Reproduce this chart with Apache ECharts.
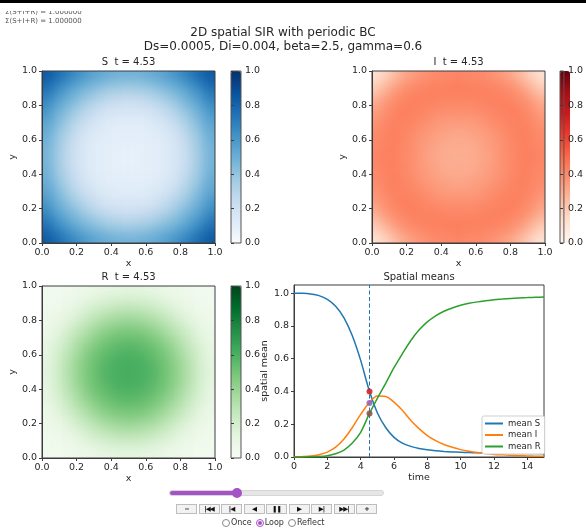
<!DOCTYPE html>
<html>
<head>
<meta charset="utf-8">
<script src="https://cdn.jsdelivr.net/npm/echarts@6/dist/echarts.min.js"></script>
<style>
  html, body { margin: 0; padding: 0; background: #fff; }
  body { width: 586px; height: 529px; position: relative; overflow: hidden; font-family: 'DejaVu Sans', sans-serif; }
  #heat { position: absolute; left: 0; top: 0; width: 586px; height: 529px; z-index: 1;
          filter: url(#smooth);
          clip-path: path('M42,71 h173 v172 h-173 Z M372,71 h173 v172 h-173 Z M42,286 h173 v172 h-173 Z'); }
  #chart { position: absolute; left: 0; top: 0; width: 586px; height: 529px; z-index: 2; }
  #topbar { position: absolute; left: 0; top: 0; width: 586px; height: 3px; background: #000; z-index: 5; }
  #note { position: absolute; left: 5px; top: 11px; height: 16px; overflow: hidden; z-index: 4; }
  #note div { margin-top: -3px; font-size: 7px; line-height: 9px; color: #555; }
  #slider { position: absolute; left: 169px; top: 490px; width: 213px; height: 4px; background: #e6e6e6; border: 1px solid #d6d6d6; border-radius: 3px; z-index: 3; }
  #fill { position: absolute; left: 0; top: 0; width: 67px; height: 4px; background: #a552c8; border-radius: 3px; }
  #knob { position: absolute; left: 62px; top: -3px; width: 10px; height: 10px; border-radius: 50%; background: #a552c8; }
  #buttons { position: absolute; left: 176px; top: 504px; display: flex; gap: 1.5px; z-index: 3; }
  #buttons span { display: block; width: 21px; height: 10px; box-sizing: border-box; border: 1px solid #bdbdbd; background: #f2f2f2; font-size: 6.5px; line-height: 8px; text-align: center; color: #111; font-weight: bold; letter-spacing: -1px; }
  #modes { position: absolute; left: 218px; top: 518px; font-size: 8px; color: #333; display: flex; align-items: center; z-index: 3; }
  .radio { display: inline-block; width: 6px; height: 6px; border: 1px solid #888; border-radius: 50%; margin: 0 1px 0 4px; position: relative; }
  .radio.on { border-color: #a552c8; }
  .radio.on::after { content: ''; position: absolute; left: 1px; top: 1px; width: 4px; height: 4px; border-radius: 50%; background: #a552c8; }
</style>
</head>
<body>
<svg width="0" height="0" style="position:absolute">
  <filter id="smooth" x="0" y="0" width="100%" height="100%" color-interpolation-filters="sRGB">
    <feGaussianBlur stdDeviation="4.5"/>
    <feComponentTransfer><feFuncA type="linear" slope="60" intercept="0"/></feComponentTransfer>
  </filter>
</svg>
<div id="topbar"></div>
<div id="note"><div>Σ(S+I+R) = 1.000000<br>Σ(S+I+R) = 1.000000</div></div>
<div id="heat"></div>
<div id="chart"></div>
<div id="slider"><div id="fill"></div><div id="knob"></div></div>
<div id="buttons"><span>−</span><span>|◀◀</span><span>|◀</span><span>◀</span><span>❚❚</span><span>▶</span><span>▶|</span><span>▶▶|</span><span>+</span></div>
<div id="modes"><span class="radio"></span>Once <span class="radio on"></span>Loop <span class="radio"></span>Reflect</div>
<script>
// grid cell centres of the 20x20 field
const CELLS = [0.025, 0.075, 0.125, 0.175, 0.225, 0.275, 0.325, 0.375, 0.425, 0.475,
               0.525, 0.575, 0.625, 0.675, 0.725, 0.775, 0.825, 0.875, 0.925, 0.975];
const UNIT_TICKS = [0, 0.2, 0.4, 0.6, 0.8, 1.0];
const TIME_TICKS = [0, 2, 4, 6, 8, 10, 12, 14];
const T_NOW = 4.53;
const Y_TOP = 1.05;

// S field at t = 4.53 (rows from y=0 upward)
const S_FIELD = [
  [0.84,0.79,0.73,0.67,0.62,0.57,0.53,0.51,0.49,0.48,0.48,0.49,0.51,0.53,0.57,0.62,0.67,0.73,0.79,0.84],
  [0.79,0.72,0.65,0.59,0.53,0.49,0.46,0.43,0.41,0.40,0.40,0.41,0.43,0.46,0.49,0.53,0.59,0.65,0.72,0.79],
  [0.73,0.65,0.58,0.51,0.46,0.42,0.38,0.34,0.32,0.31,0.31,0.32,0.34,0.38,0.42,0.46,0.51,0.58,0.65,0.73],
  [0.67,0.59,0.51,0.46,0.40,0.34,0.30,0.27,0.24,0.23,0.23,0.24,0.27,0.30,0.34,0.40,0.46,0.51,0.59,0.67],
  [0.62,0.53,0.46,0.40,0.33,0.28,0.23,0.19,0.18,0.17,0.17,0.18,0.19,0.23,0.28,0.33,0.40,0.46,0.53,0.62],
  [0.57,0.49,0.42,0.34,0.28,0.22,0.18,0.15,0.13,0.13,0.13,0.13,0.15,0.18,0.22,0.28,0.34,0.42,0.49,0.57],
  [0.53,0.46,0.38,0.30,0.23,0.18,0.14,0.12,0.11,0.11,0.11,0.11,0.12,0.14,0.18,0.23,0.30,0.38,0.46,0.53],
  [0.51,0.43,0.34,0.27,0.19,0.15,0.12,0.11,0.10,0.10,0.10,0.10,0.11,0.12,0.15,0.19,0.27,0.34,0.43,0.51],
  [0.49,0.41,0.32,0.24,0.18,0.13,0.11,0.10,0.09,0.09,0.09,0.09,0.10,0.11,0.13,0.18,0.24,0.32,0.41,0.49],
  [0.48,0.40,0.31,0.23,0.17,0.13,0.11,0.10,0.09,0.08,0.08,0.09,0.10,0.11,0.13,0.17,0.23,0.31,0.40,0.48],
  [0.48,0.40,0.31,0.23,0.17,0.13,0.11,0.10,0.09,0.08,0.08,0.09,0.10,0.11,0.13,0.17,0.23,0.31,0.40,0.48],
  [0.49,0.41,0.32,0.24,0.18,0.13,0.11,0.10,0.09,0.09,0.09,0.09,0.10,0.11,0.13,0.18,0.24,0.32,0.41,0.49],
  [0.51,0.43,0.34,0.27,0.19,0.15,0.12,0.11,0.10,0.10,0.10,0.10,0.11,0.12,0.15,0.19,0.27,0.34,0.43,0.51],
  [0.53,0.46,0.38,0.30,0.23,0.18,0.14,0.12,0.11,0.11,0.11,0.11,0.12,0.14,0.18,0.23,0.30,0.38,0.46,0.53],
  [0.57,0.49,0.42,0.34,0.28,0.22,0.18,0.15,0.13,0.13,0.13,0.13,0.15,0.18,0.22,0.28,0.34,0.42,0.49,0.57],
  [0.62,0.53,0.46,0.40,0.33,0.28,0.23,0.19,0.18,0.17,0.17,0.18,0.19,0.23,0.28,0.33,0.40,0.46,0.53,0.62],
  [0.67,0.59,0.51,0.46,0.40,0.34,0.30,0.27,0.24,0.23,0.23,0.24,0.27,0.30,0.34,0.40,0.46,0.51,0.59,0.67],
  [0.73,0.65,0.58,0.51,0.46,0.42,0.38,0.34,0.32,0.31,0.31,0.32,0.34,0.38,0.42,0.46,0.51,0.58,0.65,0.73],
  [0.79,0.72,0.65,0.59,0.53,0.49,0.46,0.43,0.41,0.40,0.40,0.41,0.43,0.46,0.49,0.53,0.59,0.65,0.72,0.79],
  [0.84,0.79,0.73,0.67,0.62,0.57,0.53,0.51,0.49,0.48,0.48,0.49,0.51,0.53,0.57,0.62,0.67,0.73,0.79,0.84]
];

const I_FIELD = [
  [0.12,0.17,0.23,0.29,0.33,0.36,0.38,0.40,0.40,0.41,0.41,0.40,0.40,0.38,0.36,0.33,0.29,0.23,0.17,0.12],
  [0.17,0.24,0.30,0.35,0.38,0.40,0.41,0.42,0.42,0.43,0.43,0.42,0.42,0.41,0.40,0.38,0.35,0.30,0.24,0.17],
  [0.23,0.30,0.35,0.39,0.41,0.42,0.43,0.43,0.43,0.43,0.43,0.43,0.43,0.43,0.42,0.41,0.39,0.35,0.30,0.23],
  [0.29,0.35,0.39,0.41,0.43,0.43,0.42,0.42,0.41,0.41,0.41,0.41,0.42,0.42,0.43,0.43,0.41,0.39,0.35,0.29],
  [0.33,0.38,0.41,0.43,0.43,0.42,0.41,0.40,0.39,0.39,0.39,0.39,0.40,0.41,0.42,0.43,0.43,0.41,0.38,0.33],
  [0.36,0.40,0.42,0.43,0.42,0.41,0.39,0.37,0.36,0.36,0.36,0.36,0.37,0.39,0.41,0.42,0.43,0.42,0.40,0.36],
  [0.38,0.41,0.43,0.42,0.41,0.39,0.37,0.35,0.34,0.33,0.33,0.34,0.35,0.37,0.39,0.41,0.42,0.43,0.41,0.38],
  [0.40,0.42,0.43,0.42,0.40,0.37,0.35,0.33,0.32,0.31,0.31,0.32,0.33,0.35,0.37,0.40,0.42,0.43,0.42,0.40],
  [0.40,0.42,0.43,0.41,0.39,0.36,0.34,0.32,0.30,0.30,0.30,0.30,0.32,0.34,0.36,0.39,0.41,0.43,0.42,0.40],
  [0.41,0.43,0.43,0.41,0.39,0.36,0.33,0.31,0.30,0.29,0.29,0.30,0.31,0.33,0.36,0.39,0.41,0.43,0.43,0.41],
  [0.41,0.43,0.43,0.41,0.39,0.36,0.33,0.31,0.30,0.29,0.29,0.30,0.31,0.33,0.36,0.39,0.41,0.43,0.43,0.41],
  [0.40,0.42,0.43,0.41,0.39,0.36,0.34,0.32,0.30,0.30,0.30,0.30,0.32,0.34,0.36,0.39,0.41,0.43,0.42,0.40],
  [0.40,0.42,0.43,0.42,0.40,0.37,0.35,0.33,0.32,0.31,0.31,0.32,0.33,0.35,0.37,0.40,0.42,0.43,0.42,0.40],
  [0.38,0.41,0.43,0.42,0.41,0.39,0.37,0.35,0.34,0.33,0.33,0.34,0.35,0.37,0.39,0.41,0.42,0.43,0.41,0.38],
  [0.36,0.40,0.42,0.43,0.42,0.41,0.39,0.37,0.36,0.36,0.36,0.36,0.37,0.39,0.41,0.42,0.43,0.42,0.40,0.36],
  [0.33,0.38,0.41,0.43,0.43,0.42,0.41,0.40,0.39,0.39,0.39,0.39,0.40,0.41,0.42,0.43,0.43,0.41,0.38,0.33],
  [0.29,0.35,0.39,0.41,0.43,0.43,0.42,0.42,0.41,0.41,0.41,0.41,0.42,0.42,0.43,0.43,0.41,0.39,0.35,0.29],
  [0.23,0.30,0.35,0.39,0.41,0.42,0.43,0.43,0.43,0.43,0.43,0.43,0.43,0.43,0.42,0.41,0.39,0.35,0.30,0.23],
  [0.17,0.24,0.30,0.35,0.38,0.40,0.41,0.42,0.42,0.43,0.43,0.42,0.42,0.41,0.40,0.38,0.35,0.30,0.24,0.17],
  [0.12,0.17,0.23,0.29,0.33,0.36,0.38,0.40,0.40,0.41,0.41,0.40,0.40,0.38,0.36,0.33,0.29,0.23,0.17,0.12]
];

const R_FIELD = [
  [0.04,0.04,0.05,0.06,0.07,0.08,0.10,0.11,0.12,0.13,0.13,0.12,0.11,0.10,0.08,0.07,0.06,0.05,0.04,0.04],
  [0.04,0.05,0.06,0.08,0.10,0.12,0.15,0.17,0.18,0.19,0.19,0.18,0.17,0.15,0.12,0.10,0.08,0.06,0.05,0.04],
  [0.05,0.06,0.08,0.10,0.14,0.18,0.21,0.24,0.26,0.27,0.27,0.26,0.24,0.21,0.18,0.14,0.10,0.08,0.06,0.05],
  [0.06,0.08,0.10,0.15,0.19,0.24,0.28,0.31,0.34,0.35,0.35,0.34,0.31,0.28,0.24,0.19,0.15,0.10,0.08,0.06],
  [0.07,0.10,0.14,0.19,0.25,0.30,0.35,0.39,0.41,0.43,0.43,0.41,0.39,0.35,0.30,0.25,0.19,0.14,0.10,0.07],
  [0.08,0.12,0.18,0.24,0.30,0.36,0.41,0.45,0.48,0.49,0.49,0.48,0.45,0.41,0.36,0.30,0.24,0.18,0.12,0.08],
  [0.10,0.15,0.21,0.28,0.35,0.41,0.46,0.50,0.53,0.54,0.54,0.53,0.50,0.46,0.41,0.35,0.28,0.21,0.15,0.10],
  [0.11,0.17,0.24,0.31,0.39,0.45,0.50,0.54,0.56,0.58,0.58,0.56,0.54,0.50,0.45,0.39,0.31,0.24,0.17,0.11],
  [0.12,0.18,0.26,0.34,0.41,0.48,0.53,0.56,0.60,0.60,0.60,0.60,0.56,0.53,0.48,0.41,0.34,0.26,0.18,0.12],
  [0.13,0.19,0.27,0.35,0.43,0.49,0.54,0.58,0.60,0.61,0.61,0.60,0.58,0.54,0.49,0.43,0.35,0.27,0.19,0.13],
  [0.13,0.19,0.27,0.35,0.43,0.49,0.54,0.58,0.60,0.61,0.61,0.60,0.58,0.54,0.49,0.43,0.35,0.27,0.19,0.13],
  [0.12,0.18,0.26,0.34,0.41,0.48,0.53,0.56,0.60,0.60,0.60,0.60,0.56,0.53,0.48,0.41,0.34,0.26,0.18,0.12],
  [0.11,0.17,0.24,0.31,0.39,0.45,0.50,0.54,0.56,0.58,0.58,0.56,0.54,0.50,0.45,0.39,0.31,0.24,0.17,0.11],
  [0.10,0.15,0.21,0.28,0.35,0.41,0.46,0.50,0.53,0.54,0.54,0.53,0.50,0.46,0.41,0.35,0.28,0.21,0.15,0.10],
  [0.08,0.12,0.18,0.24,0.30,0.36,0.41,0.45,0.48,0.49,0.49,0.48,0.45,0.41,0.36,0.30,0.24,0.18,0.12,0.08],
  [0.07,0.10,0.14,0.19,0.25,0.30,0.35,0.39,0.41,0.43,0.43,0.41,0.39,0.35,0.30,0.25,0.19,0.14,0.10,0.07],
  [0.06,0.08,0.10,0.15,0.19,0.24,0.28,0.31,0.34,0.35,0.35,0.34,0.31,0.28,0.24,0.19,0.15,0.10,0.08,0.06],
  [0.05,0.06,0.08,0.10,0.14,0.18,0.21,0.24,0.26,0.27,0.27,0.26,0.24,0.21,0.18,0.14,0.10,0.08,0.06,0.05],
  [0.04,0.05,0.06,0.08,0.10,0.12,0.15,0.17,0.18,0.19,0.19,0.18,0.17,0.15,0.12,0.10,0.08,0.06,0.05,0.04],
  [0.04,0.04,0.05,0.06,0.07,0.08,0.10,0.11,0.12,0.13,0.13,0.12,0.11,0.10,0.08,0.07,0.06,0.05,0.04,0.04]
];

// spatial means over time
const TIMES  = [0, 0.5, 1, 1.5, 2, 2.5, 3, 3.5, 4, 4.5, 5, 5.5, 6, 6.5, 7, 7.5, 8, 8.5, 9, 9.5, 10, 10.5, 11, 11.5, 12, 12.5, 13, 13.5, 14, 14.5, 15];
const MEAN_S = [1.000, 0.999, 0.995, 0.985, 0.962, 0.920, 0.850, 0.740, 0.590, 0.410, 0.270, 0.180, 0.120, 0.085, 0.065, 0.052, 0.044, 0.038, 0.034, 0.031, 0.029, 0.027, 0.026, 0.025, 0.024, 0.023, 0.022, 0.022, 0.021, 0.021, 0.020];
const MEAN_I = [0.001, 0.003, 0.006, 0.014, 0.030, 0.060, 0.110, 0.180, 0.260, 0.330, 0.372, 0.370, 0.335, 0.285, 0.225, 0.173, 0.131, 0.100, 0.076, 0.059, 0.045, 0.035, 0.027, 0.021, 0.016, 0.013, 0.010, 0.008, 0.006, 0.005, 0.004];
const MEAN_R = [0.000, 0.000, 0.001, 0.003, 0.008, 0.020, 0.042, 0.085, 0.150, 0.260, 0.358, 0.450, 0.545, 0.630, 0.710, 0.775, 0.825, 0.862, 0.890, 0.910, 0.926, 0.938, 0.947, 0.954, 0.960, 0.964, 0.968, 0.971, 0.973, 0.975, 0.977];
const NOW_VALUES = [0.40, 0.33, 0.265];

const BLUES  = ['#f7fbff', '#deebf7', '#c6dbef', '#9ecae1', '#6baed6', '#4292c6', '#2171b5', '#08519c', '#08306b'];
const REDS   = ['#fff5f0', '#fee0d2', '#fcbba1', '#fc9272', '#fb6a4a', '#ef3b2c', '#cb181d', '#a50f15', '#67000d'];
const GREENS = ['#f7fcf5', '#e5f5e0', '#c7e9c0', '#a1d99b', '#74c476', '#41ab5d', '#238b45', '#006d2c', '#00441b'];

const FONT = 'DejaVu Sans';
const TXT = '#262626';
const AX = '#3c3c3c';

const panels = [
  { name: 'S', field: S_FIELD, colors: BLUES,  left: 42,  top: 71,  cb: 231 },
  { name: 'I', field: I_FIELD, colors: REDS,   left: 372, top: 71,  cb: 560 },
  { name: 'R', field: R_FIELD, colors: GREENS, left: 42,  top: 286, cb: 231 }
];
const PW = 173, PH = 172;

// ---- heat layer (cells only, smoothed by the css filter) ----
const heatGrids = [], heatX = [], heatY = [], heatSeries = [], heatMaps = [];
panels.forEach((p, k) => {
  heatGrids.push({ left: p.left, top: p.top, width: PW, height: PH, show: false });
  heatX.push({ gridIndex: k, type: 'category', data: CELLS, show: false });
  heatY.push({ gridIndex: k, type: 'category', data: CELLS, show: false });
  const data = [];
  p.field.forEach((row, j) => row.forEach((v, i) => data.push([i, j, v])));
  heatSeries.push({ type: 'heatmap', name: p.name, xAxisIndex: k, yAxisIndex: k, data: data, silent: true,
    itemStyle: { borderWidth: 0 }, emphasis: { disabled: true } });
  heatMaps.push({ type: 'continuous', show: false, seriesIndex: k, min: 0, max: 1, inRange: { color: p.colors } });
});
const heat = echarts.init(document.getElementById('heat'));
heat.setOption({ animation: false, grid: heatGrids, xAxis: heatX, yAxis: heatY, visualMap: heatMaps, series: heatSeries });

// ---- axes, colorbars, means ----
const grids = [], xAxes = [], yAxes = [], series = [], visualMaps = [], texts = [];

const tickLabel = { fontSize: 9.5, color: TXT, fontFamily: FONT, margin: 5, formatter: v => v.toFixed(1) };
const axLine = { show: true, lineStyle: { color: AX, width: 1 } };
const axTick = { show: true, inside: false, length: 3, lineStyle: { color: AX, width: 1 } };
const nameStyle = { fontSize: 9.5, color: TXT, fontFamily: FONT };

panels.forEach((p, k) => {
  const g = k * 2;
  grids.push({ left: p.left, top: p.top, width: PW, height: PH, show: true, borderColor: AX, borderWidth: 1, backgroundColor: 'transparent' });
  xAxes.push({ gridIndex: g, type: 'value', min: 0, max: 1, interval: 0.2,
    axisLine: axLine, axisTick: axTick, axisLabel: tickLabel, splitLine: { show: false },
    name: 'x', nameLocation: 'middle', nameGap: 10, nameTextStyle: nameStyle });
  yAxes.push({ gridIndex: g, type: 'value', min: 0, max: 1, interval: 0.2,
    axisLine: axLine, axisTick: axTick, axisLabel: tickLabel, splitLine: { show: false },
    name: 'y', nameLocation: 'middle', nameGap: 15, nameRotate: 90, nameTextStyle: nameStyle });
  // colorbar axis
  grids.push({ left: p.cb, top: p.top, width: 10, height: PH, show: true, borderColor: '#555', borderWidth: 1, backgroundColor: 'transparent', z: 10 });
  xAxes.push({ gridIndex: g + 1, type: 'value', show: false, min: 0, max: 1 });
  yAxes.push({ gridIndex: g + 1, type: 'value', position: 'right', min: 0, max: 1, interval: 0.2, z: 10,
    axisLine: { show: false }, axisTick: axTick, axisLabel: Object.assign({}, tickLabel, { margin: 4 }), splitLine: { show: false } });

  visualMaps.push({ type: 'continuous', seriesIndex: [], min: 0, max: 1, left: p.cb, top: p.top,
    itemWidth: 10, itemHeight: PH, padding: 0, calculable: false, hoverLink: false, text: null,
    inRange: { color: p.colors } });

  texts.push({ type: 'text', x: p.left + PW / 2, y: p.top - 8.5, style: {
    text: p.name + '  t = ' + T_NOW.toFixed(2), align: 'center', verticalAlign: 'middle',
    fontSize: 10, fontFamily: FONT, fill: TXT } });
});

// spatial means panel
const MG = 6;
grids.push({ left: 294, top: 285, width: 250, height: 172, show: true, borderColor: AX, borderWidth: 1, backgroundColor: 'transparent' });
xAxes.push({ gridIndex: MG, type: 'value', min: 0, max: 15,
  axisLine: axLine, axisTick: Object.assign({}, axTick, { customValues: TIME_TICKS }),
  axisLabel: { fontSize: 9.5, color: TXT, fontFamily: FONT, margin: 5, customValues: TIME_TICKS },
  splitLine: { show: false },
  name: 'time', nameLocation: 'middle', nameGap: 16, nameTextStyle: nameStyle });
yAxes.push({ gridIndex: MG, type: 'value', min: 0, max: Y_TOP,
  axisLine: axLine, axisTick: Object.assign({}, axTick, { customValues: UNIT_TICKS }),
  axisLabel: Object.assign({}, tickLabel, { customValues: UNIT_TICKS }),
  splitLine: { show: false },
  name: 'spatial mean', nameLocation: 'middle', nameGap: 19, nameRotate: 90, nameTextStyle: nameStyle });

const lineColors = ['#1f77b4', '#ff7f0e', '#2ca02c'];
[['mean S', MEAN_S], ['mean I', MEAN_I], ['mean R', MEAN_R]].forEach(([name, vals], i) => {
  series.push({ type: 'line', name: name, xAxisIndex: MG, yAxisIndex: MG, showSymbol: false, smooth: 0.3,
    data: TIMES.map((t, k) => [t, vals[k]]), lineStyle: { width: 1.5, color: lineColors[i] },
    itemStyle: { color: lineColors[i] }, silent: true, z: 3 });
});
// current-time marker line
series.push({ type: 'line', name: 'now line', xAxisIndex: MG, yAxisIndex: MG, showSymbol: false, silent: true, z: 2,
  data: [[T_NOW, 0], [T_NOW, Y_TOP]], lineStyle: { type: [4, 2.5], color: '#1f77b4', width: 1 } });
const dotColors = ['#d62728', '#9467bd', '#8c564b'];
series.push({ type: 'scatter', name: 'now', xAxisIndex: MG, yAxisIndex: MG, symbolSize: 6, silent: true, z: 4,
  data: NOW_VALUES.map((v, i) => ({ value: [T_NOW, v], itemStyle: { color: dotColors[i], opacity: 0.9 } })) });

texts.push({ type: 'text', x: 419, y: 277, style: { text: 'Spatial means', align: 'center', verticalAlign: 'middle', fontSize: 10, fontFamily: FONT, fill: TXT } });
texts.push({ type: 'text', x: 283, y: 33, style: { text: '2D spatial SIR with periodic BC', align: 'center', verticalAlign: 'middle', fontSize: 12, fontFamily: FONT, fill: TXT } });
texts.push({ type: 'text', x: 283, y: 46.5, style: { text: 'Ds=0.0005, Di=0.004, beta=2.5, gamma=0.6', align: 'center', verticalAlign: 'middle', fontSize: 12, fontFamily: FONT, fill: TXT } });

const chart = echarts.init(document.getElementById('chart'));
chart.setOption({
  animation: false,
  textStyle: { fontFamily: FONT },
  grid: grids,
  xAxis: xAxes,
  yAxis: yAxes,
  visualMap: visualMaps,
  legend: {
    data: ['mean S', 'mean I', 'mean R'], orient: 'vertical', left: 482, top: 416,
    icon: 'rect', itemWidth: 18, itemHeight: 2, itemGap: 2.5,
    backgroundColor: '#fff', borderColor: '#cfcfcf', borderWidth: 1, borderRadius: 2, padding: [3, 4, 3, 3],
    textStyle: { fontSize: 8.5, color: TXT, fontFamily: FONT }, selectedMode: false
  },
  graphic: texts,
  series: series
});
</script>
</body>
</html>
